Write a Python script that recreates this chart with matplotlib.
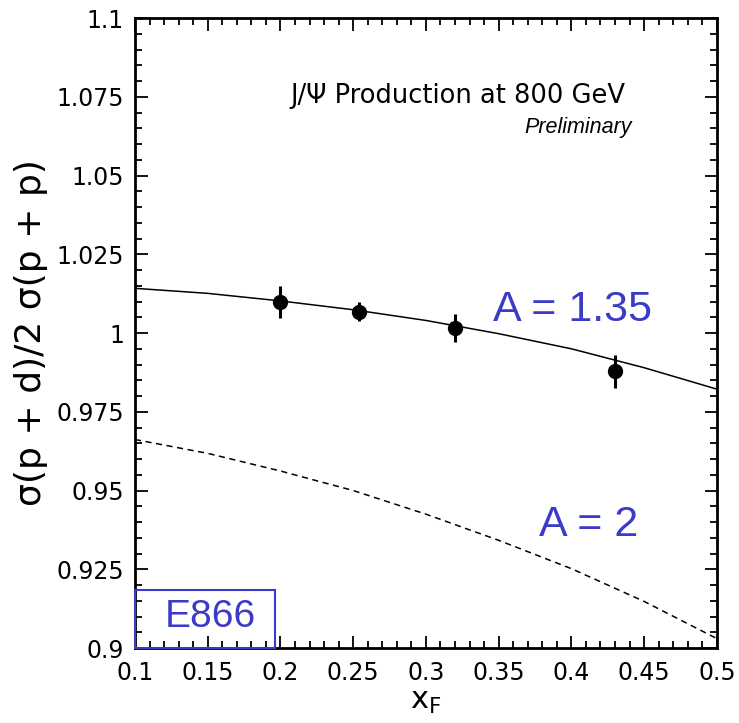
import matplotlib
matplotlib.use("Agg")
import matplotlib.pyplot as plt
from matplotlib.ticker import MultipleLocator, FuncFormatter
from matplotlib.patches import Rectangle

plt.rcParams['font.family'] = ['DejaVu Sans']

# Datos medidos (E866, J/psi a 800 GeV)
xf = [0.20, 0.254, 0.32, 0.43]
ratio = [1.0098, 1.0068, 1.0015, 0.9878]
err = [0.0050, 0.0031, 0.0045, 0.0052]

# Curva A = 1.35 (solida)
x_curve = [0.10, 0.15, 0.20, 0.25, 0.30, 0.35, 0.40, 0.45, 0.50]
y_a135 = [1.0142, 1.0126, 1.0102, 1.0074, 1.0040, 0.9998, 0.9950, 0.9890, 0.9822]
# Curva A = 2 (discontinua)
y_a2 = [0.9662, 0.9618, 0.9562, 0.9500, 0.9425, 0.9342, 0.9252, 0.9148, 0.9030]

blue = '#3b3bc8'
arial = ['Liberation Sans', 'DejaVu Sans']

fig = plt.figure(figsize=(7.39, 7.23), dpi=100)
ax = fig.add_axes([0.1827, 0.1037, 0.7873, 0.8713])

ax.plot(x_curve, y_a135, color='black', lw=1.1)
ax.plot(x_curve, y_a2, color='black', lw=1.1, ls=(0, (4, 3)))
ax.errorbar(xf, ratio, yerr=err, fmt='o', color='black', ms=10, elinewidth=2.2, capsize=0)

ax.set_xlim(0.1, 0.5)
ax.set_ylim(0.9, 1.1)

ax.xaxis.set_major_locator(MultipleLocator(0.05))
ax.xaxis.set_minor_locator(MultipleLocator(0.01))
ax.yaxis.set_major_locator(MultipleLocator(0.025))
ax.yaxis.set_minor_locator(MultipleLocator(0.005))
fmt = FuncFormatter(lambda v, p: '%g' % round(v, 4))
ax.xaxis.set_major_formatter(fmt)
ax.yaxis.set_major_formatter(fmt)
ax.tick_params(which='both', direction='in', top=True, right=True, width=1.3, labelsize=17)
ax.tick_params(which='major', length=9)
ax.tick_params(which='minor', length=5)
ax.tick_params(axis='x', pad=9)
ax.tick_params(axis='y', pad=8)
for s in ax.spines.values():
    s.set_linewidth(2)

ax.set_xlabel('x$_\\mathregular{F}$', fontsize=22, labelpad=2)
ax.set_ylabel('σ(p + d)/2 σ(p + p)', fontsize=26)
ax.yaxis.set_label_coords(-0.15, 0.5)

ax.text(0.2065, 1.0752, 'J/Ψ Production at 800 GeV', fontsize=18.5, va='center', ha='left')
ax.text(0.4416, 1.0652, 'Preliminary', fontsize=15.5, style='italic', va='center', ha='right',
        family=arial)
ax.text(0.346, 1.0073, 'A = 1.35', fontsize=31, color=blue, va='center', ha='left', family=arial)
ax.text(0.378, 0.9390, 'A = 2', fontsize=31, color=blue, va='center', ha='left', family=arial)

box = Rectangle((0.1, 0.9), 0.0965, 0.0185, fill=False, edgecolor=blue, lw=1.5, zorder=5, clip_on=False)
ax.add_patch(box)
ax.text(0.1515, 0.9100, 'E866', fontsize=28, color=blue, va='center', ha='center', family=arial)

fig.savefig('out.png', dpi=100)
